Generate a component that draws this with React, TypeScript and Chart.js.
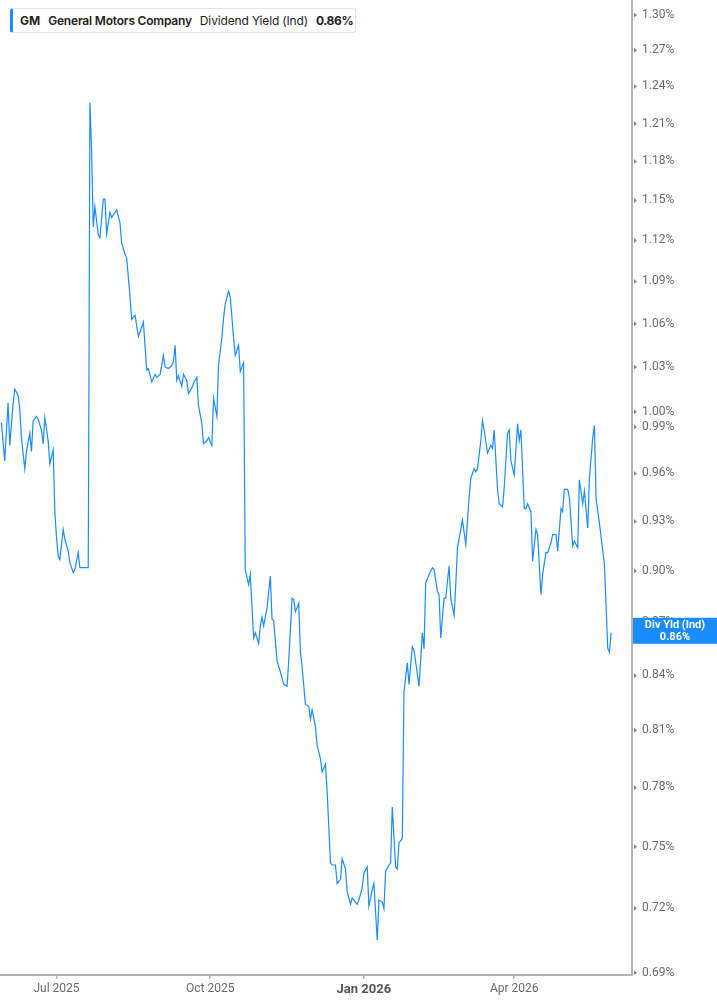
import { useEffect, useRef } from "react";
import { Chart, registerables } from "chart.js";
Chart.register(...registerables);

// GM dividend yield (%)
const dates = [
  "2025-05-29", "2025-05-31", "2025-06-02", "2025-06-03", "2025-06-05", "2025-06-06", "2025-06-08", "2025-06-09",
  "2025-06-10", "2025-06-12", "2025-06-13", "2025-06-15", "2025-06-16", "2025-06-17", "2025-06-19", "2025-06-20",
  "2025-06-22", "2025-06-23", "2025-06-24", "2025-06-26", "2025-06-27", "2025-06-29", "2025-06-30", "2025-07-01",
  "2025-07-02", "2025-07-03", "2025-07-05", "2025-07-06", "2025-07-08", "2025-07-09", "2025-07-11", "2025-07-12",
  "2025-07-14", "2025-07-15", "2025-07-18", "2025-07-20",
  "2025-07-21", "2025-07-22", "2025-07-23", "2025-07-24", "2025-07-26", "2025-07-27", "2025-07-29", "2025-07-30",
  "2025-07-31", "2025-08-02", "2025-08-03", "2025-08-06", "2025-08-08", "2025-08-09", "2025-08-11", "2025-08-12",
  "2025-08-14", "2025-08-15", "2025-08-17", "2025-08-19", "2025-08-22", "2025-08-24", "2025-08-25", "2025-08-27",
  "2025-08-29", "2025-08-30", "2025-09-01",
  "2025-09-03", "2025-09-04", "2025-09-06", "2025-09-08", "2025-09-09", "2025-09-10", "2025-09-11", "2025-09-12",
  "2025-09-14", "2025-09-15", "2025-09-17", "2025-09-18", "2025-09-20", "2025-09-21", "2025-09-23", "2025-09-24",
  "2025-09-26", "2025-09-27", "2025-09-29", "2025-09-30", "2025-10-02", "2025-10-03", "2025-10-05", "2025-10-06",
  "2025-10-08", "2025-10-09", "2025-10-10", "2025-10-12", "2025-10-13", "2025-10-15", "2025-10-16", "2025-10-18",
  "2025-10-19", "2025-10-21",
  "2025-10-22", "2025-10-24", "2025-10-25", "2025-10-27", "2025-10-28", "2025-10-30", "2025-10-31", "2025-11-01",
  "2025-11-02", "2025-11-04", "2025-11-06", "2025-11-07", "2025-11-08", "2025-11-10", "2025-11-11", "2025-11-12",
  "2025-11-14", "2025-11-16", "2025-11-17", "2025-11-19", "2025-11-20", "2025-11-21", "2025-11-23", "2025-11-24",
  "2025-11-25", "2025-11-27", "2025-11-29", "2025-11-30", "2025-12-01", "2025-12-03", "2025-12-04", "2025-12-06",
  "2025-12-07", "2025-12-09", "2025-12-10",
  "2025-12-12", "2025-12-13", "2025-12-15", "2025-12-16", "2025-12-18", "2025-12-19", "2025-12-21", "2025-12-22",
  "2025-12-24", "2025-12-25", "2025-12-26", "2025-12-28", "2025-12-29", "2025-12-31", "2026-01-01", "2026-01-03",
  "2026-01-04", "2026-01-06", "2026-01-07", "2026-01-09", "2026-01-10", "2026-01-12", "2026-01-13", "2026-01-14",
  "2026-01-16", "2026-01-17", "2026-01-18", "2026-01-20", "2026-01-21", "2026-01-22", "2026-01-24", "2026-01-25",
  "2026-01-27", "2026-01-28",
  "2026-01-30", "2026-01-31", "2026-02-02", "2026-02-03", "2026-02-05", "2026-02-06", "2026-02-07", "2026-02-09",
  "2026-02-11", "2026-02-12", "2026-02-14", "2026-02-15", "2026-02-16", "2026-02-18", "2026-02-19", "2026-02-21",
  "2026-02-22", "2026-02-24", "2026-02-25", "2026-02-26", "2026-02-28", "2026-03-01", "2026-03-03", "2026-03-05",
  "2026-03-06", "2026-03-08", "2026-03-09", "2026-03-10", "2026-03-12", "2026-03-13", "2026-03-14",
  "2026-03-16", "2026-03-18", "2026-03-19", "2026-03-20", "2026-03-22", "2026-03-23", "2026-03-25", "2026-03-26",
  "2026-03-28", "2026-03-29", "2026-03-30", "2026-04-01", "2026-04-03", "2026-04-04", "2026-04-05", "2026-04-07",
  "2026-04-08", "2026-04-09", "2026-04-11", "2026-04-12", "2026-04-14", "2026-04-15", "2026-04-17", "2026-04-18",
  "2026-04-20", "2026-04-21", "2026-04-23", "2026-04-24", "2026-04-26", "2026-04-27", "2026-04-29", "2026-04-30",
  "2026-05-01", "2026-05-03", "2026-05-04", "2026-05-06", "2026-05-07", "2026-05-09", "2026-05-10", "2026-05-12",
  "2026-05-13", "2026-05-15", "2026-05-16", "2026-05-18", "2026-05-19", "2026-05-20", "2026-05-22", "2026-05-24",
  "2026-05-25", "2026-05-27", "2026-05-28", "2026-05-29",
];

const yields = [
  0.993, 0.968, 1.006, 0.978, 1.005, 1.015, 1.011, 1.002,
  0.983, 0.963, 0.974, 0.986, 0.974, 0.994, 0.997, 0.995,
  0.988, 0.979, 0.996, 0.981, 0.966, 0.975, 0.936, 0.92,
  0.909, 0.907, 0.925, 0.919, 0.912, 0.905, 0.899, 0.901,
  0.911, 0.902, 0.902, 0.902,
  1.227, 1.189, 1.13, 1.145, 1.124, 1.122, 1.151, 1.151,
  1.125, 1.141, 1.137, 1.143, 1.133, 1.118, 1.11, 1.107,
  1.079, 1.063, 1.066, 1.051, 1.061, 1.028, 1.029, 1.02,
  1.025, 1.023, 1.025,
  1.038, 1.03, 1.029, 1.031, 1.034, 1.045, 1.021, 1.024,
  1.017, 1.025, 1.021, 1.012, 1.016, 1.019, 1.023, 1.004,
  0.992, 0.979, 0.981, 0.983, 0.978, 1.009, 0.997, 1.032,
  1.05, 1.064, 1.074, 1.083, 1.079, 1.05, 1.038, 1.045,
  1.027, 1.033,
  0.901, 0.892, 0.898, 0.861, 0.864, 0.858, 0.868, 0.873,
  0.868, 0.878, 0.897, 0.872, 0.871, 0.848, 0.845, 0.842,
  0.835, 0.834, 0.848, 0.884, 0.883, 0.876, 0.881, 0.853,
  0.845, 0.824, 0.823, 0.816, 0.821, 0.812, 0.802, 0.795,
  0.788, 0.792, 0.778,
  0.742, 0.741, 0.741, 0.732, 0.734, 0.744, 0.739, 0.728,
  0.722, 0.725, 0.724, 0.722, 0.724, 0.73, 0.737, 0.74,
  0.721, 0.729, 0.732, 0.705, 0.724, 0.723, 0.72, 0.738,
  0.741, 0.742, 0.77, 0.74, 0.739, 0.752, 0.754, 0.831,
  0.847, 0.835,
  0.856, 0.854, 0.841, 0.834, 0.864, 0.855, 0.893, 0.898,
  0.902, 0.901, 0.888, 0.886, 0.861, 0.884, 0.884, 0.903,
  0.884, 0.874, 0.892, 0.914, 0.925, 0.931, 0.916, 0.945,
  0.957, 0.963, 0.961, 0.963, 0.981, 0.994, 0.988,
  0.973, 0.978, 0.976, 0.988, 0.95, 0.941, 0.939, 0.951,
  0.986, 0.988, 0.968, 0.959, 0.992, 0.981, 0.988, 0.938,
  0.938, 0.941, 0.936, 0.906, 0.925, 0.922, 0.886, 0.898,
  0.911, 0.911, 0.917, 0.922, 0.922, 0.912, 0.938, 0.936,
  0.95, 0.95, 0.945, 0.915, 0.918, 0.914, 0.956, 0.941,
  0.949, 0.926, 0.957, 0.983, 0.991, 0.944, 0.929, 0.912,
  0.904, 0.855, 0.853, 0.864,
];

const xTickDates = ["2025-07-01", "2025-10-01", "2026-01-01", "2026-04-01"];
const xTickLabels = ["Jul 2025", "Oct 2025", "Jan 2026", "Apr 2026"];
const yTicks = [
  1.3, 1.27, 1.24, 1.21, 1.18, 1.15, 1.12, 1.09, 1.06, 1.03, 1.0,
  0.99, 0.96, 0.93, 0.9, 0.87, 0.84, 0.81, 0.78, 0.75, 0.72, 0.69,
];

const BLUE = "#1a8cff";
const ts = (d: string) => Date.parse(d + "T00:00:00Z");
const janTs = ts("2026-01-01");

const axisMarks = {
  id: "axisMarks",
  afterDraw(chart: any) {
    const { ctx, chartArea, scales } = chart;
    const ys = scales.y;
    ctx.save();
    // little arrow marks on the right axis
    ctx.fillStyle = "#8a8a8a";
    for (const t of ys.ticks) {
      const py = ys.getPixelForValue(t.value);
      ctx.beginPath();
      ctx.moveTo(chartArea.right + 2, py - 2.5);
      ctx.lineTo(chartArea.right + 5, py);
      ctx.lineTo(chartArea.right + 2, py + 2.5);
      ctx.closePath();
      ctx.fill();
    }
    // last value badge
    const last = yields[yields.length - 1];
    const y = ys.getPixelForValue(last) - 2;
    const x0 = chartArea.right + 1;
    const w = chart.width - x0;
    ctx.fillStyle = BLUE;
    ctx.fillRect(x0, y - 13, w, 26);
    ctx.fillStyle = "#fff";
    ctx.font = "bold 11px Roboto";
    ctx.textAlign = "center";
    ctx.textBaseline = "middle";
    ctx.fillText("Div Yld (Ind)", x0 + w / 2, y - 6);
    ctx.fillText(last.toFixed(2) + "%", x0 + w / 2, y + 6);
    ctx.restore();
  },
};

export default function App() {
  const ref = useRef<HTMLCanvasElement | null>(null);

  useEffect(() => {
    if (!ref.current) return;
    Chart.defaults.font.family = "Roboto";

    const chart = new Chart(ref.current, {
      type: "line",
      data: {
        datasets: [
          {
            label: "Dividend Yield (Ind)",
            data: dates.map((d, i) => ({ x: ts(d), y: yields[i] })),
            borderColor: BLUE,
            borderWidth: 1.2,
            pointRadius: 0,
            tension: 0,
          },
        ],
      },
      options: {
        animation: false,
        responsive: true,
        maintainAspectRatio: false,
        layout: { padding: 0, autoPadding: false },
        plugins: { legend: { display: false }, tooltip: { enabled: false } },
        scales: {
          x: {
            type: "linear",
            min: Date.parse("2025-05-28T04:00:00Z"),
            max: Date.parse("2026-06-10T12:00:00Z"),
            afterBuildTicks: (s: any) => {
              s.ticks = xTickDates.map((d) => ({ value: ts(d) }));
            },
            afterFit: (s: any) => {
              s.height = 30;
              s.paddingLeft = 0;
              s.paddingRight = 0;
            },
            border: { display: true, color: "#b3b3b3", width: 2 },
            grid: { drawOnChartArea: false, drawTicks: true, tickLength: 4, color: "#b3b3b3", lineWidth: 1.5 },
            ticks: {
              autoSkip: false,
              maxRotation: 0,
              padding: 3,
              callback: (v: any) => xTickLabels[xTickDates.findIndex((d) => ts(d) === v)] ?? "",
              color: (c: any) => (c.tick && c.tick.value === janTs ? "#555" : "#6b6b6b"),
              font: (c: any) =>
                c.tick && c.tick.value === janTs
                  ? { size: 13, weight: "bold", family: "Roboto" }
                  : { size: 12, family: "Roboto" },
            },
          },
          y: {
            type: "logarithmic",
            position: "right",
            min: 0.689,
            max: 1.313,
            afterBuildTicks: (s: any) => {
              s.ticks = yTicks.map((v) => ({ value: v }));
            },
            afterFit: (s: any) => {
              s.width = 85;
              s.paddingTop = 0;
              s.paddingBottom = 0;
            },
            border: { display: true, color: "#b3b3b3", width: 2 },
            grid: { drawOnChartArea: false, drawTicks: false },
            ticks: {
              autoSkip: false,
              padding: 10,
              color: "#6b6b6b",
              font: { size: 12, family: "Roboto" },
              callback: (v: any) => Number(v).toFixed(2) + "%",
            },
          },
        },
      },
      plugins: [axisMarks],
    });

    return () => chart.destroy();
  }, []);

  return (
    <div style={{ position: "absolute", left: 0, top: 0, width: 717, height: 1005, background: "#fff" }}>
      <canvas ref={ref} />
      <div
        style={{
          position: "absolute",
          left: 10,
          top: 8,
          height: 25,
          display: "flex",
          alignItems: "center",
          gap: 8,
          padding: "0 2px 0 7px",
          border: "1px solid #e6e6e6",
          borderLeft: `3px solid ${BLUE}`,
          borderRadius: 3,
          background: "#fff",
          boxSizing: "border-box",
          fontFamily: "Inter, sans-serif",
          fontSize: 12,
          color: "#222",
          whiteSpace: "nowrap",
        }}
      >
        <span style={{ fontWeight: 700 }}>GM</span>
        <span style={{ fontWeight: 600, letterSpacing: -0.2 }}>General Motors Company</span>
        <span style={{ fontWeight: 400, letterSpacing: -0.15 }}>Dividend Yield (Ind)</span>
        <span style={{ fontWeight: 700, letterSpacing: -0.4 }}>0.86%</span>
      </div>
    </div>
  );
}
